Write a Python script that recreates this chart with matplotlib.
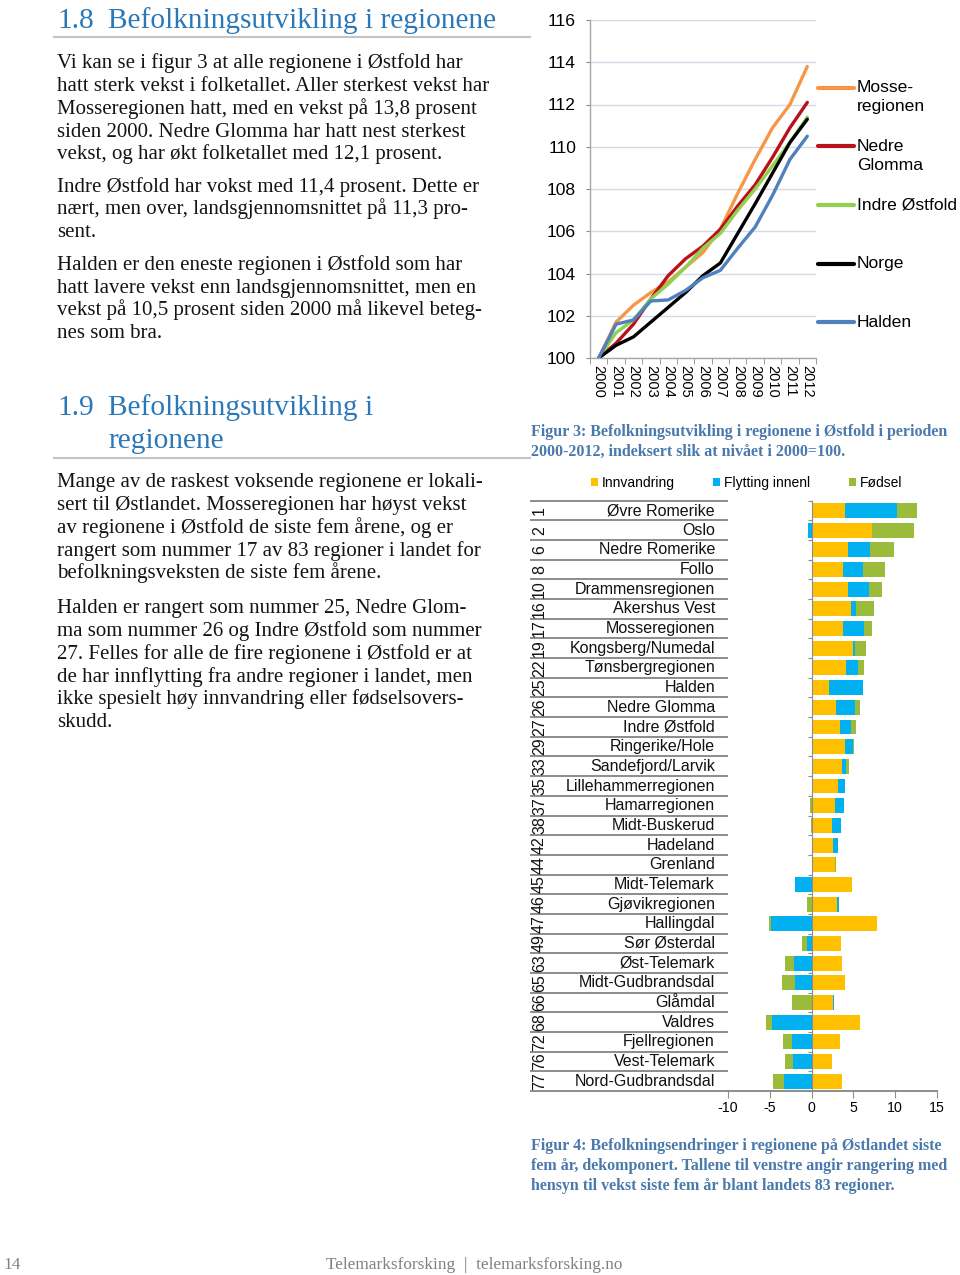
import numpy as np
import matplotlib
matplotlib.use("Agg")
import matplotlib.pyplot as plt
from matplotlib.patches import Patch
from matplotlib.lines import Line2D

# ---------------- data: Figur 3 (index, 2000 = 100) ----------------
years = ['2000', '2001', '2002', '2003', '2004', '2005', '2006',
         '2007', '2008', '2009', '2010', '2011', '2012']
mosseregionen = [100, 101.7, 102.5, 103.1, 103.6, 104.3, 105.0, 106.1, 107.8, 109.4, 110.9, 112.0, 113.8]
nedre_glomma = [100, 100.7, 101.6, 102.8, 103.9, 104.7, 105.3, 106.1, 107.2, 108.2, 109.5, 110.9, 112.1]
indre_ostfold = [100, 101.2, 101.8, 102.8, 103.5, 104.3, 105.2, 105.9, 107.0, 108.0, 109.1, 110.2, 111.4]
norge = [100, 100.6, 101.0, 101.7, 102.4, 103.1, 103.9, 104.5, 105.9, 107.3, 108.75, 110.2, 111.3]
halden = [100, 101.6, 101.8, 102.7, 102.75, 103.2, 103.8, 104.15, 105.2, 106.2, 107.7, 109.4, 110.5]
line_labels = ['Mosse-\nregionen', 'Nedre\nGlomma', 'Indre Østfold', 'Norge', 'Halden']
y_ticks_fig3 = [100, 102, 104, 106, 108, 110, 112, 114, 116]

# ---------------- data: Figur 4 (decomposed change) ----------------
regions = ['Øvre Romerike', 'Oslo', 'Nedre Romerike', 'Follo', 'Drammensregionen',
           'Akershus Vest', 'Mosseregionen', 'Kongsberg/Numedal', 'Tønsbergregionen',
           'Halden', 'Nedre Glomma', 'Indre Østfold', 'Ringerike/Hole', 'Sandefjord/Larvik',
           'Lillehammerregionen', 'Hamarregionen', 'Midt-Buskerud', 'Hadeland', 'Grenland',
           'Midt-Telemark', 'Gjøvikregionen', 'Hallingdal', 'Sør Østerdal', 'Øst-Telemark',
           'Midt-Gudbrandsdal', 'Glåmdal', 'Valdres', 'Fjellregionen', 'Vest-Telemark',
           'Nord-Gudbrandsdal']
ranks = ['1', '2', '6', '8', '10', '16', '17', '19', '22', '25', '26', '27', '29', '33',
         '35', '37', '38', '42', '44', '45', '46', '47', '49', '63', '65', '66', '68',
         '72', '76', '77']
innvandring = [4.0, 7.2, 4.3, 3.7, 4.3, 4.7, 3.8, 4.9, 4.1, 2.1, 2.9, 3.35, 4.0, 3.6,
               3.15, 2.75, 2.4, 2.55, 2.75, 4.8, 3.0, 7.85, 3.55, 3.6, 3.95, 2.55, 5.75,
               3.4, 2.45, 3.6]
flytting = [6.2, -0.4, 2.7, 2.5, 2.55, 0.6, 2.5, 0.25, 1.4, 4.0, 2.3, 1.35, 1.0, 0.55,
            0.85, 1.1, 1.15, 0.65, 0.0, -1.95, 0.3, -4.8, -0.5, -2.15, -2.0, 0.15, -4.7,
            -2.4, -2.25, -3.3]
fodsel = [2.4, 5.0, 2.9, 2.6, 1.6, 2.2, 0.9, 1.3, 0.8, 0.0, 0.6, 0.6, 0.1, 0.3,
          0.0, -0.25, -0.1, 0.0, 0.15, 0.0, -0.5, -0.3, -0.6, -1.05, -1.5, -2.35, -0.7,
          -1.05, -0.95, -1.35]
bar_series = ['Innvandring', 'Flytting innenl', 'Fødsel']
x_ticks_fig4 = [-10, -5, 0, 5, 10, 15]

# ---------------- text ----------------
heading1 = ('1.8', 'Befolkningsutvikling i regionene')
para1 = ['Vi kan se i figur 3 at alle regionene i Østfold har',
         'hatt sterk vekst i folketallet. Aller sterkest vekst har',
         'Mosseregionen hatt, med en vekst på 13,8 prosent',
         'siden 2000. Nedre Glomma har hatt nest sterkest',
         'vekst, og har økt folketallet med 12,1 prosent.']
para2 = ['Indre Østfold har vokst med 11,4 prosent. Dette er',
         'nært, men over, landsgjennomsnittet på 11,3 pro-',
         'sent.']
para3 = ['Halden er den eneste regionen i Østfold som har',
         'hatt lavere vekst enn landsgjennomsnittet, men en',
         'vekst på 10,5 prosent siden 2000 må likevel beteg-',
         'nes som bra.']
heading2 = ('1.9', 'Befolkningsutvikling i', 'regionene')
para4 = ['Mange av de raskest voksende regionene er lokali-',
         'sert til Østlandet. Mosseregionen har høyst vekst',
         'av regionene i Østfold de siste fem årene, og er',
         'rangert som nummer 17 av 83 regioner i landet for',
         'befolkningsveksten de siste fem årene.']
para5 = ['Halden er rangert som nummer 25, Nedre Glom-',
         'ma som nummer 26 og Indre Østfold som nummer',
         '27. Felles for alle de fire regionene i Østfold er at',
         'de har innflytting fra andre regioner i landet, men',
         'ikke spesielt høy innvandring eller fødselsovers-',
         'skudd.']
caption3 = ['Figur 3: Befolkningsutvikling i regionene i Østfold i perioden',
            '2000-2012, indeksert slik at nivået i 2000=100.']
caption4 = ['Figur 4: Befolkningsendringer i regionene på Østlandet siste',
            'fem år, dekomponert. Tallene til venstre angir rangering med',
            'hensyn til vekst siste fem år blant landets 83 regioner.']
footer_page = '14'
footer_text = 'Telemarksforsking  |  telemarksforsking.no'

# ---------------- figure ----------------
W, H = 960, 1275
fig = plt.figure(figsize=(W / 100, H / 100), dpi=100)
fig.patch.set_facecolor('white')
SERIF = 'Liberation Serif'
SANS = 'Liberation Sans'
HEAD_C = '#2A78B8'
CAP_C = '#4A79AC'
GRAY = '#8C8C8C'


def fx(x):
    return x / W


def fy(y):
    return 1 - y / H


def axes_px(x0, y0, x1, y1):
    return fig.add_axes([x0 / W, 1 - y1 / H, (x1 - x0) / W, (y1 - y0) / H])


renderer = fig.canvas.get_renderer()


def fit_size(text, target_px, **kw):
    t = fig.text(0, 0, text, fontsize=10, **kw)
    w = t.get_window_extent(renderer).width
    t.remove()
    return 10 * target_px / w


# ---- left column text ----
fs_head = fit_size(heading1[1], 389, family=SERIF)
fs_body = fit_size(para1[0], 404, family=SERIF)
fs_cap = fit_size(caption3[0], 420, family=SERIF, weight='bold')
fs_foot = fit_size(footer_text, 296, family=SERIF)

fig.text(fx(57), fy(28.5), heading1[0], family=SERIF, fontsize=fs_head, color=HEAD_C, va='baseline')
fig.text(fx(108), fy(28.5), heading1[1], family=SERIF, fontsize=fs_head, color=HEAD_C, va='baseline')
fig.add_artist(Line2D([fx(54), fx(530)], [fy(37)] * 2, color='#C4C4C4', lw=1.5))

fig.text(fx(57), fy(415), heading2[0], family=SERIF, fontsize=fs_head, color=HEAD_C, va='baseline')
fig.text(fx(108), fy(415), heading2[1], family=SERIF, fontsize=fs_head, color=HEAD_C, va='baseline')
fig.text(fx(108), fy(448), heading2[2], family=SERIF, fontsize=fs_head, color=HEAD_C, va='baseline')
fig.add_artist(Line2D([fx(54), fx(530)], [fy(458)] * 2, color='#C4C4C4', lw=1.5))

LS = 22.75
for para, y0 in [(para1, 68.3), (para2, 191.7), (para3, 270.0), (para4, 487.3), (para5, 613.3)]:
    for i, line in enumerate(para):
        fig.text(fx(57), fy(y0 + i * LS), line, family=SERIF, fontsize=fs_body,
                 color='#141414', va='baseline')

for i, line in enumerate(caption3):
    fig.text(fx(531), fy(436 + i * 20), line, family=SERIF, fontsize=fs_cap,
             weight='bold', color=CAP_C, va='baseline')
for i, line in enumerate(caption4):
    fig.text(fx(531), fy(1150.5 + i * 20), line, family=SERIF, fontsize=fs_cap,
             weight='bold', color=CAP_C, va='baseline')

fig.text(fx(3), fy(1269), footer_page, family=SERIF, fontsize=fs_foot, color='#808080', va='baseline')
fig.text(fx(326), fy(1269), footer_text, family=SERIF, fontsize=fs_foot, color='#808080', va='baseline')

# ---- Figur 3: line chart ----
ax1 = axes_px(590, 20, 816, 358)
xs = np.arange(len(years))
series = [mosseregionen, nedre_glomma, indre_ostfold, norge, halden]
colors = ['#F79646', '#B8121B', '#92D050', '#000000', '#4F81BD']
handles = []
for vals, col, lab in zip(series, colors, line_labels):
    h, = ax1.plot(xs, vals, color=col, lw=2.4, solid_joinstyle='round',
                  solid_capstyle='round', label=lab)
    handles.append(h)
ax1.set_xlim(-0.5, len(years) - 0.5)
ax1.set_ylim(y_ticks_fig3[0], y_ticks_fig3[-1])
ax1.set_yticks(y_ticks_fig3)
ax1.set_yticklabels([str(v) for v in y_ticks_fig3], family=SANS, fontsize=12.6)
ax1.set_xticks(xs)
ax1.set_xticklabels(years, rotation=-90, family=SANS, fontsize=10.5)
ax1.set_xticks(np.arange(len(years) + 1) - 0.5, minor=True)
ax1.tick_params(axis='x', which='major', length=0, pad=5)
ax1.tick_params(axis='x', which='minor', length=4, color=GRAY, direction='out')
ax1.tick_params(axis='y', length=3, color=GRAY, pad=7)
ax1.grid(axis='y', color='#D3DBE6', lw=1.0)
ax1.set_axisbelow(True)
for s in ['top', 'right']:
    ax1.spines[s].set_visible(False)
for s in ['left', 'bottom']:
    ax1.spines[s].set_color('#A6A6A6')
    ax1.spines[s].set_linewidth(1.0)

leg_labels = ['\n' + l if '\n' in l else '\n' + l + '\n' for l in line_labels]
leg1 = ax1.legend(handles, leg_labels, loc='center left',
                  bbox_to_anchor=(fx(818), fy(205)), bbox_transform=fig.transFigure,
                  frameon=False, borderpad=0, borderaxespad=0, handlelength=2.05,
                  handletextpad=0.18, labelspacing=0.34,
                  prop={'family': SANS, 'size': 12.6})
for t in leg1.get_texts():
    t.set_linespacing(1.32)
for lh in leg1.get_lines():
    lh.set_linewidth(3.0)

# ---- Figur 4: stacked horizontal bars ----
n = len(regions)
ypos = np.arange(n)
ax2 = axes_px(728, 500.7, 937, 1091)
bar_colors = ['#FFC000', '#00B0F0', '#9BBB3B']
pos_cum = np.zeros(n)
neg_cum = np.zeros(n)
for vals, col, lab in zip([innvandring, flytting, fodsel], bar_colors, bar_series):
    v = np.array(vals, dtype=float)
    base = np.where(v >= 0, pos_cum, neg_cum)
    ax2.barh(ypos, v, left=base, height=0.76, color=col, label=lab, zorder=2)
    pos_cum = pos_cum + np.where(v > 0, v, 0)
    neg_cum = neg_cum + np.where(v < 0, v, 0)
ax2.set_ylim(n - 0.5, -0.5)
ax2.set_xlim(x_ticks_fig4[0], x_ticks_fig4[-1])
ax2.set_xticks(x_ticks_fig4)
ax2.set_xticklabels([str(v) for v in x_ticks_fig4], family=SANS, fontsize=10.2)
ax2.set_yticks(np.arange(n + 1) - 0.5)
ax2.set_yticklabels([])
ax2.tick_params(axis='y', length=3, color=GRAY, direction='out')
ax2.tick_params(axis='x', length=5, color=GRAY, direction='out', pad=2)
ax2.spines['left'].set_position(('data', 0))
ax2.spines['left'].set_color(GRAY)
ax2.spines['bottom'].set_color(GRAY)
ax2.spines['bottom'].set_linewidth(1.4)
for s in ['top', 'right']:
    ax2.spines[s].set_visible(False)
ax2.set_facecolor('none')

leg_handles = [Patch(facecolor=c, edgecolor='none') for c in bar_colors]
ax2.legend(leg_handles, bar_series, loc='center left', ncol=3,
           bbox_to_anchor=(fx(591), fy(483)), bbox_transform=fig.transFigure,
           frameon=False, borderpad=0, borderaxespad=0, handlelength=0.5,
           handleheight=0.5, handletextpad=0.3, columnspacing=2.75,
           prop={'family': SANS, 'size': 10})

# category table (rank + name) left of the bar chart
axt = axes_px(530, 500.7, 728, 1091)
axt.set_xlim(0, 1)
axt.set_ylim(n - 0.5, -0.5)
axt.axis('off')
axt.hlines(np.arange(n + 1) - 0.5, 0, 1, color=GRAY, lw=1.4, clip_on=False)
for i in range(n):
    axt.text(0.934, ypos[i], regions[i], ha='right', va='center', family=SANS,
             fontsize=11.5, color='#111111')
    axt.text(0.048, ypos[i], ranks[i], ha='center', va='center', rotation=90,
             family=SANS, fontsize=11.5, color='#111111')

fig.savefig('out.png', dpi=100)
